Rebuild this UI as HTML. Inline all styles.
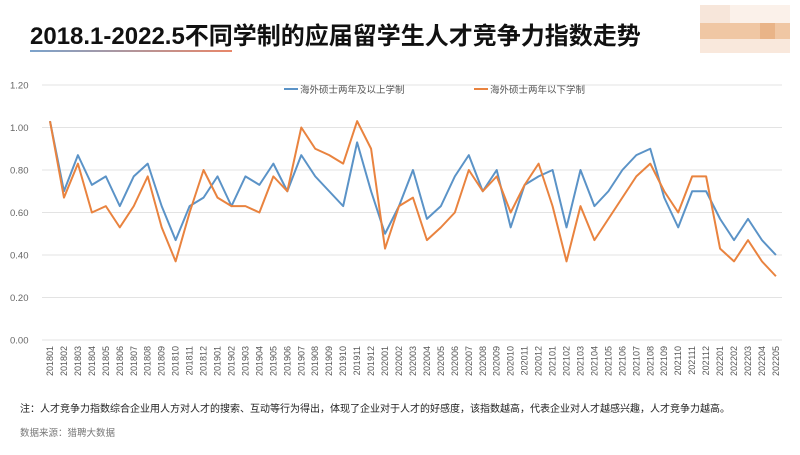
<!DOCTYPE html><html><head><meta charset="utf-8"><style>
body{margin:0;width:800px;height:450px;background:#fff;overflow:hidden;font-family:"Liberation Sans","Noto Sans CJK SC",sans-serif}
</style></head><body>
<svg id="s" width="800" height="450" xmlns="http://www.w3.org/2000/svg" font-family="Liberation Sans, Noto Sans CJK SC, sans-serif">
<text x="30" y="44" font-size="24" font-weight="bold" fill="#111">2018.1-2022.5不同学制的应届留学生人才竞争力指数走势</text>
<defs><linearGradient id="g"><stop offset="0" stop-color="#7ba3cc"/><stop offset="1" stop-color="#e8876a"/></linearGradient></defs>
<rect x="30" y="50" width="202" height="2" fill="url(#g)"/>
<rect x="700" y="5" width="30" height="18" fill="#f7e6da"/><rect x="730" y="5" width="60" height="18" fill="#fbf1ea"/>
<rect x="700" y="23" width="90" height="16" fill="#f0c7a4"/><rect x="760" y="23" width="15" height="16" fill="#e9b488"/>
<rect x="700" y="39" width="90" height="14" fill="#f9e8dc"/>
<g id="c"></g>
<text x="20" y="412" font-size="10" fill="#222">注：人才竞争力指数综合企业用人方对人才的搜索、互动等行为得出，体现了企业对于人才的好感度，该指数越高，代表企业对人才越感兴趣，人才竞争力越高。</text>
<text x="20" y="436" font-size="9.5" fill="#777">数据来源：猎聘大数据</text>
</svg>
<script>
var b=[1.03,.70,.87,.73,.77,.63,.77,.83,.63,.47,.63,.67,.77,.63,.77,.73,.83,.70,.87,.77,.70,.63,.93,.70,.50,.63,.80,.57,.63,.77,.87,.70,.80,.53,.73,.77,.80,.53,.80,.63,.70,.80,.87,.90,.67,.53,.70,.70,.57,.47,.57,.47,.40];
var o=[1.03,.67,.83,.60,.63,.53,.63,.77,.53,.37,.60,.80,.67,.63,.63,.60,.77,.70,1.00,.90,.87,.83,1.03,.90,.43,.63,.67,.47,.53,.60,.80,.70,.77,.60,.73,.83,.63,.37,.63,.47,.57,.67,.77,.83,.70,.60,.77,.77,.43,.37,.47,.37,.30];
var h='',Y=v=>340-v*212.5,X=i=>50+i*13.96;
for(var k=0;k<=6;k++){var y=Y(k*.2);h+='<line x1="42" x2="782" y1="'+y+'" y2="'+y+'" stroke="#e3e3e3"/>';h+='<text x="10" y="'+(y+3.5)+'" font-size="9.5" fill="#666">'+(k*.2).toFixed(2)+'</text>';}
function p(a,c){return '<polyline fill="none" stroke="'+c+'" stroke-width="2" stroke-linejoin="round" points="'+a.map((v,i)=>X(i)+','+Y(v)).join(' ')+'"/>';}
h+=p(b,'#5b93c7')+p(o,'#e9833f');
for(var i=0;i<53;i++){var yr=2018+Math.floor(i/12),m=i%12+1,t=''+yr+(m<10?'0':'')+m,x=X(i)+3;h+='<text font-size="9" fill="#555" text-anchor="end" transform="translate('+x+',346) rotate(-90)">'+t+'</text>';}
h+='<line x1="284" x2="298" y1="89" y2="89" stroke="#5b93c7" stroke-width="2"/><text x="300" y="93" font-size="9.5" fill="#555">海外硕士两年及以上学制</text>';
h+='<line x1="474" x2="488" y1="89" y2="89" stroke="#e9833f" stroke-width="2"/><text x="490" y="93" font-size="9.5" fill="#555">海外硕士两年以下学制</text>';
document.getElementById('c').innerHTML=h;
</script></body></html>
